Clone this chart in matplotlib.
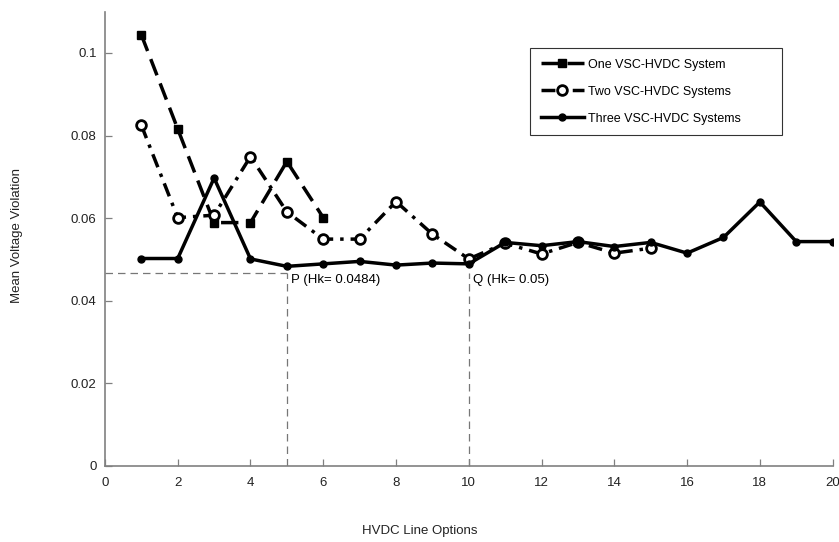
import numpy as np
import matplotlib
matplotlib.use("Agg")
import matplotlib.pyplot as plt

plt.rcParams["font.family"] = ["Liberation Sans", "DejaVu Sans"]

# ---------------------------------------------------------------------------
# Data
# ---------------------------------------------------------------------------
x_one = [1, 2, 3, 4, 5, 6]
y_one = [0.1044, 0.0816, 0.0589, 0.0589, 0.0737, 0.0601]

x_two = list(range(1, 16))
y_two = [0.0825, 0.0601, 0.0607, 0.0749, 0.0615, 0.0549, 0.0549, 0.0640,
         0.0561, 0.0501, 0.0539, 0.0513, 0.0541, 0.0515, 0.0527]

x_three = list(range(1, 21))
y_three = [0.0502, 0.0502, 0.0697, 0.0501, 0.0483, 0.0489, 0.0495, 0.0486,
           0.0491, 0.0489, 0.0541, 0.0533, 0.0543, 0.0531, 0.0541, 0.0515,
           0.0553, 0.0639, 0.0543, 0.0543]

ref_level = 0.0467
p_x, q_x = 5, 10

fig = plt.figure(figsize=(8.39, 5.42), dpi=100)
ax = fig.add_axes([0.1251, 0.1408, 0.8673, 0.8376])

ax.plot(x_one, y_one, color="black", linestyle=(0, (5, 2.5)), linewidth=2.5,
        marker="s", markersize=5.5, label="One VSC-HVDC System", zorder=3)
ax.plot(x_two, y_two, color="black", linestyle=(0, (4, 2, 1, 2)), linewidth=2.5,
        marker="o", markersize=7, markerfacecolor="white", markeredgewidth=2,
        label="Two VSC-HVDC Systems", zorder=4)
ax.plot(x_three, y_three, color="black", linestyle="-", linewidth=2.5,
        marker="o", markersize=5, label="Three VSC-HVDC Systems", zorder=5)

# Reference dashed guide lines
guide = dict(color="#777777", linestyle=(0, (6, 4)), linewidth=0.9, zorder=1)
ax.plot([0, p_x], [ref_level, ref_level], **guide)
ax.plot([p_x, p_x], [0, ref_level], **guide)
ax.plot([q_x, q_x], [0, ref_level], **guide)

ax.text(p_x + 0.12, ref_level - 0.0002, "P (Hk= 0.0484)", ha="left", va="top",
        fontsize=9.5, color="black")
ax.text(q_x + 0.12, ref_level - 0.0002, "Q (Hk= 0.05)", ha="left", va="top",
        fontsize=9.5, color="black")

ax.set_xlim(0, 20)
ax.set_ylim(0, 0.11)
ax.set_xticks(np.arange(0, 21, 2))
ax.set_yticks([0, 0.02, 0.04, 0.06, 0.08, 0.1])
ax.set_yticklabels(["0", "0.02", "0.04", "0.06", "0.08", "0.1"])

for side in ["top", "right"]:
    ax.spines[side].set_visible(False)
for side in ["left", "bottom"]:
    ax.spines[side].set_color("#808080")
    ax.spines[side].set_linewidth(1.2)

ax.tick_params(direction="in", length=5, width=0.9, color="#808080",
               labelsize=9.5, labelcolor="#222222")
ax.tick_params(axis="y", pad=6)
ax.tick_params(axis="x", pad=8)

fig.text(0.0205, 0.565, "Mean Voltage Violation", rotation=90, ha="center",
         va="center", fontsize=9.5, color="#222222")
fig.text(0.5, 0.02, "HVDC Line Options", ha="center", va="center",
         fontsize=9.5, color="#222222")

leg = ax.legend(loc="upper left", bbox_to_anchor=(0.584, 0.73, 0.346, 0.19),
                mode="expand", fontsize=9, frameon=True, fancybox=False,
                handlelength=3.5, borderpad=0.85, borderaxespad=0,
                labelspacing=1.2, handletextpad=0.3)
leg.get_frame().set_edgecolor("black")
leg.get_frame().set_linewidth(0.8)

fig.savefig("out.png", dpi=100)
